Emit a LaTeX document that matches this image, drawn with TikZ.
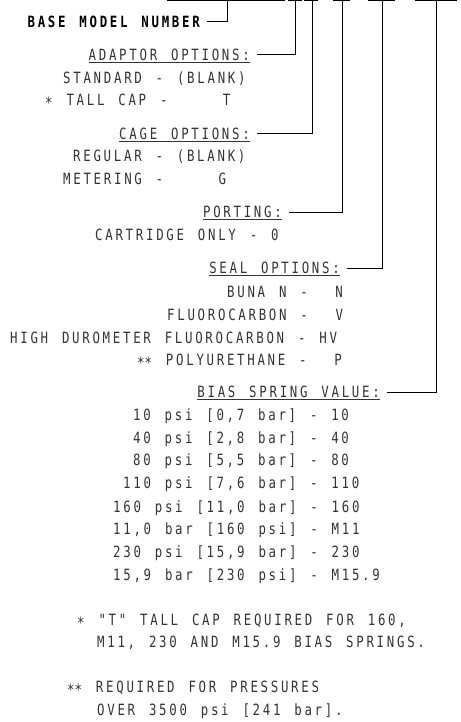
\documentclass[tikz,border=0pt]{standalone}
\usepackage{fontspec}
\setmainfont{DejaVu Sans Mono}[FakeStretch=0.8, LetterSpace=17.5, WordSpace=1.36, Ligatures=TeXOff]
\newcommand{\cadstar}{\raisebox{-3pt}{*}}

\begin{document}
\begin{tikzpicture}[
    x=1pt, y=-1pt,
    font=\fontsize{15.5}{19}\selectfont,
    lbl/.style={inner sep=0pt, text height=11pt, text depth=0pt, anchor=west,
                text=black!80},
    hdr/.style={lbl, anchor=east},
    conn/.style={line width=1pt},
    blank/.style={line width=1.2pt},
  ]
  \useasboundingbox (0,0) rectangle (460,722);

  %% ---- model number blanks along the top ----
  \coordinate (tBase) at (227,0.6);
  \coordinate (tAd)   at (295,0.6);
  \coordinate (tCg)   at (312,0.6);
  \coordinate (tPo)   at (342,0.6);
  \coordinate (tSe)   at (382,0.6);
  \coordinate (tBi)   at (436,0.6);
  \draw[blank] (167,0.6) -- (285,0.6);
  \draw[blank] (288,0.6) -- (302,0.6);
  \draw[blank] (304,0.6) -- (318,0.6);
  \draw[blank] (333,0.6) -- (350,0.6);
  \draw[blank] (368,0.6) -- (395,0.6);
  \draw[blank] (415,0.6) -- (457,0.6);

  %% ---- headings ----
  \node[hdr, text=black] (base) at (200,22) {\bfseries BASE MODEL NUMBER};
  \node[hdr] (hAd)  at (250,55)  {\underline{ADAPTOR OPTIONS:}};
  \node[hdr] (hCg)  at (250,134) {\underline{CAGE OPTIONS:}};
  \node[hdr] (hPo)  at (282,212) {\underline{PORTING:}};
  \node[hdr] (hSe)  at (340,268) {\underline{SEAL OPTIONS:}};
  \node[hdr] (hBi)  at (380,392) {\underline{BIAS SPRING VALUE:}};

  \draw[conn, shorten <=7pt] (base.east) -| (tBase);
  \draw[conn, shorten <=7pt] (hAd.east)  -| (tAd);
  \draw[conn, shorten <=7pt] (hCg.east)  -| (tCg);
  \draw[conn, shorten <=7pt] (hPo.east)  -| (tPo);
  \draw[conn, shorten <=7pt] (hSe.east)  -| (tSe);
  \draw[conn, shorten <=7pt] (hBi.east)  -| (tBi);

  %% ---- options ----
  \node[lbl] (ad1) at (63,78)   {STANDARD - (BLANK)};
  \node[lbl] (ad2) at (45,100)  {\cadstar\ TALL CAP -~~~~T};
  \node[lbl] (cg1) at (73,156)  {REGULAR - (BLANK)};
  \node[lbl] (cg2) at (63,179)  {METERING -~~~~G};
  \node[lbl] (po1) at (95,235)  {CARTRIDGE ONLY - 0};
  \node[lbl] (se1) at (227,292) {BUNA N -~~N};
  \node[lbl] (se2) at (167,315) {FLUOROCARBON -~~V};
  \node[lbl] (se3) at (10,338)  {HIGH DUROMETER FLUOROCARBON - HV};
  \node[lbl] (se4) at (137,360) {\cadstar\cadstar\ POLYURETHANE -~~P};

  \node[lbl] (bi1) at (133,415) {10 psi [0,7 bar] - 10};
  \node[lbl] (bi2) at (133,438) {40 psi [2,8 bar] - 40};
  \node[lbl] (bi3) at (133,460) {80 psi [5,5 bar] - 80};
  \node[lbl] (bi4) at (123,483) {110 psi [7,6 bar] - 110};
  \node[lbl] (bi5) at (113,507) {160 psi [11,0 bar] - 160};
  \node[lbl] (bi6) at (113,529) {11,0 bar [160 psi] - M11};
  \node[lbl] (bi7) at (113,552) {230 psi [15,9 bar] - 230};
  \node[lbl] (bi8) at (113,575) {15,9 bar [230 psi] - M15.9};

  %% ---- notes ----
  \node[lbl] (n1a) at (77,620) {\cadstar\ "T" TALL CAP REQUIRED FOR 160,};
  \node[lbl] (n1b) at (97,642) {M11, 230 AND M15.9 BIAS SPRINGS.};
  \node[lbl] (n2a) at (67,687) {\cadstar\cadstar\ REQUIRED FOR PRESSURES};
  \node[lbl] (n2b) at (97,710) {OVER 3500 psi [241 bar].};

\end{tikzpicture}
\end{document}
